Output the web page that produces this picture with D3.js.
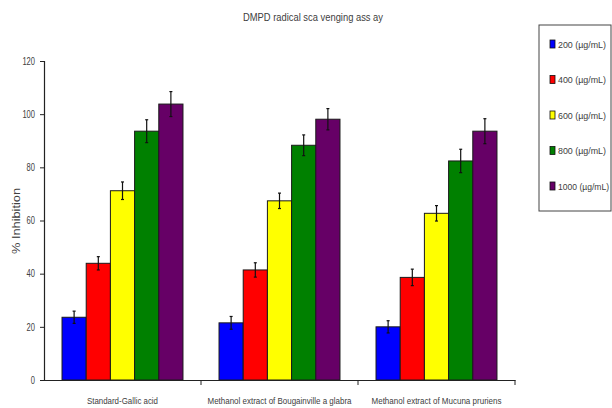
<!DOCTYPE html>
<html>
<head>
<meta charset="utf-8">
<script src="https://cdn.jsdelivr.net/npm/d3@7"></script>
<style>
  html, body { margin: 0; padding: 0; background: #fff; }
  svg { display: block; }
  text { font-family: "Liberation Sans", Arial, sans-serif; fill: #404040; }
</style>
</head>
<body>
<svg id="chart" width="612" height="408"></svg>
<script>
// Extracts tested and concentrations
const categories = ["Standard-Gallic acid", "Methanol extract of Bougainvillea glabra", "Methanol extract of Mucuna pruriens"];
const categoryLabels = ["Standard-Gallic acid", "Methanol extract of Bougainville a glabra", "Methanol extract of Mucuna pruriens"];
const concentrations = ["200 (µg/mL)", "400 (µg/mL)", "600 (µg/mL)", "800 (µg/mL)", "1000 (µg/mL)"];
const colors = ["#0000ff", "#ff0000", "#ffff00", "#008000", "#660066"];

// % inhibition per concentration, one value per category
const inhibition200  = [23.6, 21.5, 20.0];
const inhibition400  = [43.9, 41.4, 38.6];
const inhibition600  = [71.2, 67.4, 62.7];
const inhibition800  = [93.6, 88.3, 82.4];
const inhibition1000 = [103.8, 98.1, 93.6];

// standard deviations (error bars)
const sd200  = [2.3, 2.4, 2.3];
const sd400  = [2.5, 2.7, 3.1];
const sd600  = [3.3, 2.9, 2.9];
const sd800  = [4.3, 3.9, 4.4];
const sd1000 = [4.7, 4.0, 4.7];

const yTicks = [0, 20, 40, 60, 80, 100, 120];

const seriesValues = [inhibition200, inhibition400, inhibition600, inhibition800, inhibition1000];
const seriesSd = [sd200, sd400, sd600, sd800, sd1000];

const rows = [];
categories.forEach((c, ci) => {
  concentrations.forEach((s, si) => {
    rows.push({ cat: c, series: s, value: seriesValues[si][ci], sd: seriesSd[si][ci], color: colors[si] });
  });
});

// narrow text: squeeze glyphs horizontally to a given width
function narrow(sel, width) {
  sel.attr("textLength", width).attr("lengthAdjust", "spacingAndGlyphs");
}

const svg = d3.select("#chart");

const x0 = d3.scaleBand().domain(categories).range([44, 515]).paddingInner(0).paddingOuter(0);
const x1 = d3.scaleBand().domain(concentrations).range([0, x0.bandwidth()]).paddingInner(0).paddingOuter(0.745);
const y = d3.scaleLinear().domain([0, 120]).range([380, 61]);

// title
svg.append("text")
  .attr("x", 243).attr("y", 21)
  .style("font-size", "10.5px")
  .text("DMPD radical sca venging ass ay")
  .call(narrow, 140);

// bars
const bars = svg.append("g");
bars.selectAll("rect")
  .data(rows)
  .join("rect")
  .attr("x", d => x0(d.cat) + x1(d.series))
  .attr("y", d => y(d.value))
  .attr("width", x1.bandwidth())
  .attr("height", d => y(0) - y(d.value))
  .attr("fill", d => d.color)
  .attr("stroke", "#1a1a1a")
  .attr("stroke-width", 1);

// error bars
const err = svg.append("g").attr("stroke", "#111").attr("stroke-width", 1.2);
rows.forEach(d => {
  const cx = x0(d.cat) + x1(d.series) + x1.bandwidth() / 2;
  err.append("line").attr("x1", cx).attr("x2", cx).attr("y1", y(d.value + d.sd)).attr("y2", y(d.value - d.sd));
  err.append("line").attr("x1", cx - 1.5).attr("x2", cx + 1.5).attr("y1", y(d.value + d.sd)).attr("y2", y(d.value + d.sd));
  err.append("line").attr("x1", cx - 1.5).attr("x2", cx + 1.5).attr("y1", y(d.value - d.sd)).attr("y2", y(d.value - d.sd));
});

// y axis
const yAxis = svg.append("g")
  .attr("transform", "translate(44,0)")
  .call(d3.axisLeft(y).tickValues(yTicks).tickSize(4).tickPadding(5));
yAxis.select(".domain").attr("stroke", "#222").attr("stroke-width", 1.2);
yAxis.selectAll(".tick line").attr("stroke", "#222");
yAxis.selectAll("text").style("font-size", "10px").attr("fill", "#555")
  .each(function (d) { narrow(d3.select(this), String(d).length * 4.2); });

// x axis
const xAxis = svg.append("g")
  .attr("transform", "translate(0,380)")
  .call(d3.axisBottom(x0).tickSize(0).tickPadding(17).tickFormat((d, i) => categoryLabels[i]));
xAxis.select(".domain").attr("stroke", "#222").attr("stroke-width", 1.2);
const labelWidths = [71, 144, 130];
xAxis.selectAll("text").style("font-size", "9.5px").attr("fill", "#555")
  .each(function (d, i) { narrow(d3.select(this), labelWidths[i]); });
// category boundary ticks
xAxis.selectAll(".sep")
  .data(categories)
  .join("line")
  .attr("class", "sep")
  .attr("x1", d => x0(d) + x0.bandwidth()).attr("x2", d => x0(d) + x0.bandwidth())
  .attr("y1", 0).attr("y2", 5)
  .attr("stroke", "#222");

// y axis title
svg.append("text")
  .attr("transform", "translate(20,221) rotate(-90)")
  .attr("text-anchor", "middle")
  .style("font-size", "10.5px")
  .text("% Inhibition")
  .call(narrow, 66);

// legend
const legend = svg.append("g");
legend.append("rect")
  .attr("x", 539).attr("y", 25).attr("width", 72).attr("height", 186)
  .attr("fill", "#fff").attr("stroke", "#444").attr("stroke-width", 1);
const ly = d3.scalePoint().domain(concentrations).range([44, 186]);
concentrations.forEach((s, i) => {
  legend.append("rect")
    .attr("x", 550).attr("y", ly(s) - 4).attr("width", 5).attr("height", 8)
    .attr("fill", colors[i]).attr("stroke", "#111").attr("stroke-width", 0.8);
  legend.append("text")
    .attr("x", 558).attr("y", ly(s) + 3.5)
    .style("font-size", "9px")
    .text(s)
    .call(narrow, i === 4 ? 51 : 48);
});
</script>
</body>
</html>
